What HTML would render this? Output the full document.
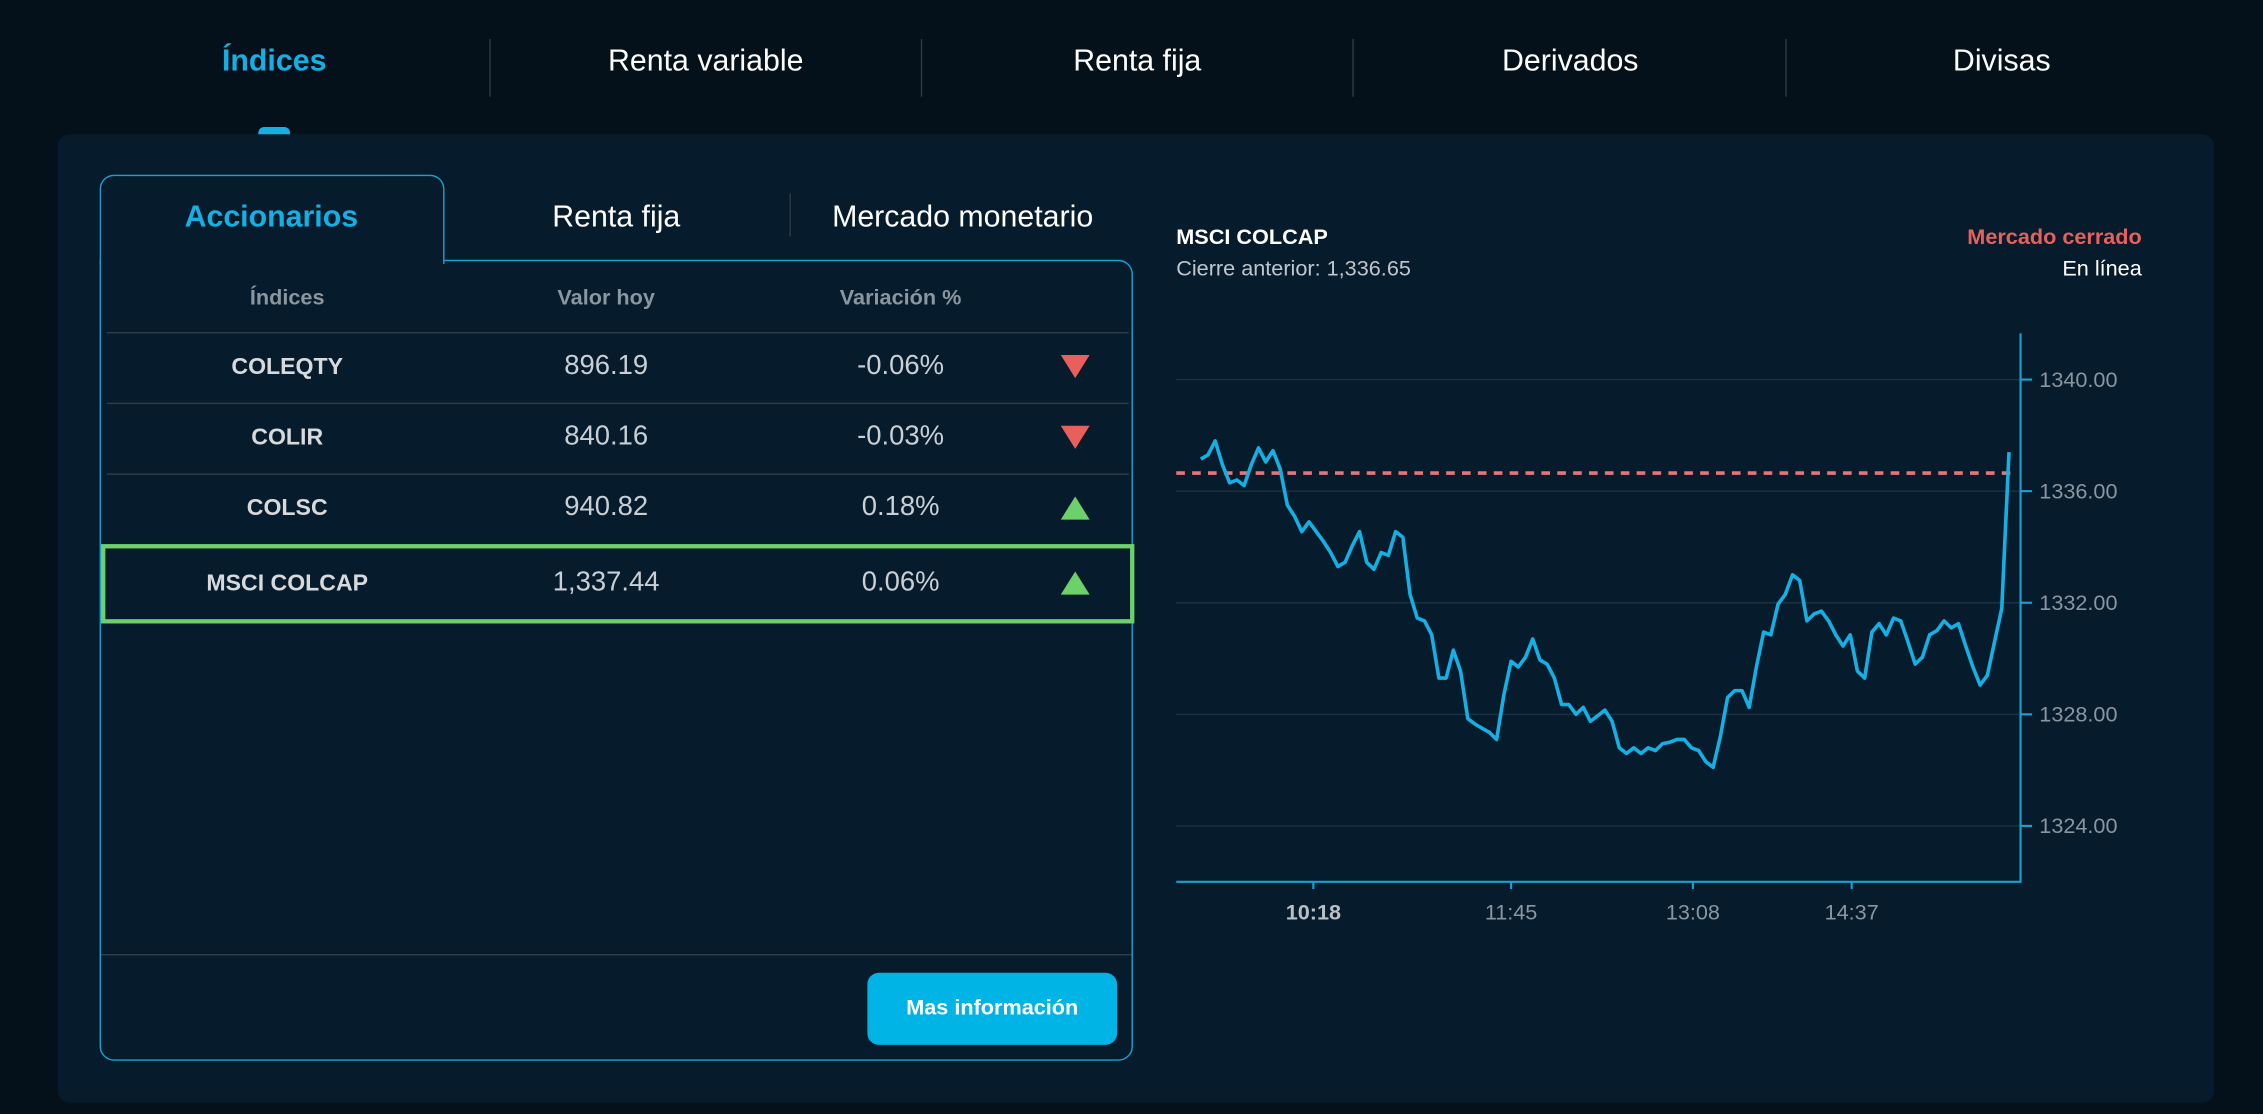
<!DOCTYPE html>
<html><head><meta charset="utf-8"><style>
html,body{margin:0;padding:0;background:#04111a;overflow:hidden;width:2263px;height:1114px}
#root{position:absolute;left:0;top:0;width:1568px;height:772px;transform:scale(1.44324);transform-origin:0 0;font-family:"Liberation Sans",sans-serif;color:#fff;background:#04111a}
.abs{position:absolute}
.nav{position:absolute;top:31px;font-size:21px;transform:translateX(-50%);white-space:nowrap}
.sep{position:absolute;top:27px;width:1px;height:40px;background:#2a3a46}
.hdr{position:absolute;top:198px;font-size:15px;font-weight:bold;color:#8c969e;transform:translateX(-50%)}
.cell{position:absolute;font-size:19px;color:#c9cfd4;transform:translateX(-50%);white-space:nowrap}
.name{font-size:16px;font-weight:bold;color:#d6dadd}
.rowline{position:absolute;left:74px;width:708px;height:1px;background:#2e3e4a}
.tri{position:absolute;width:0;height:0;border-left:10px solid transparent;border-right:10px solid transparent}
</style></head><body>
<div id="root">
<div class="nav" style="left:190px;color:#14b0e3;font-weight:bold">Índices</div>
<div class="sep" style="left:339px"></div>
<div class="nav" style="left:489px">Renta variable</div>
<div class="sep" style="left:638px"></div>
<div class="nav" style="left:788px">Renta fija</div>
<div class="sep" style="left:937px"></div>
<div class="nav" style="left:1088px">Derivados</div>
<div class="sep" style="left:1237px"></div>
<div class="nav" style="left:1387px">Divisas</div>
<div class="abs" style="left:179px;top:88px;width:22px;height:8px;border-radius:4px 4px 0 0;background:#14b0e3"></div>

<div class="abs" style="left:40px;top:93px;width:1494px;height:671px;background:#061b2b;border-radius:8px"></div>

<div class="abs" style="left:69px;top:180px;width:716px;height:555px;border:1.5px solid #1a9fd0;border-radius:0 10px 10px 10px;box-sizing:border-box"></div>
<div class="abs" style="left:69px;top:121px;width:239px;height:62px;border:1.5px solid #1a9fd0;border-bottom:none;border-radius:10px 10px 0 0;background:#061b2b;box-sizing:border-box"></div>
<div class="abs" style="left:188px;top:139px;transform:translateX(-50%);font-size:21px;font-weight:bold;color:#14b0e3">Accionarios</div>
<div class="abs" style="left:427px;top:139px;transform:translateX(-50%);font-size:21px">Renta fija</div>
<div class="sep" style="left:547px;top:134px;height:30px"></div>
<div class="abs" style="left:667px;top:139px;transform:translateX(-50%);font-size:21px;white-space:nowrap">Mercado monetario</div>

<div class="hdr" style="left:199px">Índices</div>
<div class="hdr" style="left:420px">Valor hoy</div>
<div class="hdr" style="left:624px">Variación %</div>
<div class="rowline" style="top:230px"></div>
<div class="rowline" style="top:279px"></div>
<div class="rowline" style="top:328px"></div>
<div class="rowline" style="top:377px"></div>

<div>
<div class="cell name" style="left:199px;top:246px">COLEQTY</div>
<div class="cell" style="left:420px;top:243px">896.19</div>
<div class="cell" style="left:624px;top:243px">-0.06%</div>
<div class="tri" style="left:735px;top:246px;border-top:16px solid #e8605c"></div></div>
<div>
<div class="cell name" style="left:199px;top:295px">COLIR</div>
<div class="cell" style="left:420px;top:292px">840.16</div>
<div class="cell" style="left:624px;top:292px">-0.03%</div>
<div class="tri" style="left:735px;top:295px;border-top:16px solid #e8605c"></div></div>
<div>
<div class="cell name" style="left:199px;top:344px">COLSC</div>
<div class="cell" style="left:420px;top:341px">940.82</div>
<div class="cell" style="left:624px;top:341px">0.18%</div>
<div class="tri" style="left:735px;top:344px;border-bottom:16px solid #6dd16b"></div></div>
<div class="abs" style="left:70px;top:377px;width:716px;height:55px;border:3px solid #6dd16b;box-sizing:border-box"></div>
<div class="cell name" style="left:199px;top:396px">MSCI COLCAP</div>
<div class="cell" style="left:420px;top:393px">1,337.44</div>
<div class="cell" style="left:624px;top:393px">0.06%</div>
<div class="tri" style="left:735px;top:396px;border-bottom:16px solid #6dd16b"></div>

<div class="rowline" style="top:661px;left:70px;width:714px"></div>
<div class="abs" style="left:601px;top:674px;width:173px;height:50px;border-radius:8px;background:#00b4e6;font-size:15px;font-weight:bold;line-height:50px;text-align:center">Mas información</div>

<div class="abs" style="left:815px;top:156px;font-size:15px;font-weight:bold">MSCI COLCAP</div>
<div class="abs" style="left:815px;top:178px;font-size:15px;color:#c0c6cc">Cierre anterior: 1,336.65</div>
<div class="abs" style="right:84px;top:156px;font-size:15px;font-weight:bold;color:#e8605c">Mercado cerrado</div>
<div class="abs" style="right:84px;top:178px;font-size:15px">En línea</div>

<svg id="chart" class="abs" style="left:0;top:0" width="1568" height="772"></svg>
</div>
<script>
const yTicks=[1340,1336,1332,1328,1324];
const yTickLabels=["1340.00","1336.00","1332.00","1328.00","1324.00"];
const xTickIdx=[15.6,43,68.2,90.2];
const xTickLabels=["10:18","11:45","13:08","14:37"];
const prevClose=1336.65;
const values=[1337.15,1337.3,1337.8,1336.95,1336.3,1336.4,1336.2,1336.95,1337.55,1337.05,1337.45,1336.8,1335.5,1335.1,1334.55,1334.9,1334.55,1334.2,1333.8,1333.3,1333.45,1334.05,1334.55,1333.45,1333.2,1333.8,1333.7,1334.55,1334.35,1332.3,1331.45,1331.35,1330.85,1329.3,1329.3,1330.3,1329.55,1327.85,1327.65,1327.5,1327.35,1327.1,1328.7,1329.9,1329.7,1330.05,1330.7,1329.95,1329.8,1329.3,1328.35,1328.35,1328,1328.25,1327.75,1327.95,1328.15,1327.75,1326.8,1326.6,1326.8,1326.6,1326.8,1326.7,1326.95,1327,1327.1,1327.1,1326.8,1326.7,1326.3,1326.1,1327.2,1328.6,1328.85,1328.85,1328.25,1329.7,1330.95,1330.85,1331.95,1332.3,1333,1332.8,1331.35,1331.6,1331.7,1331.35,1330.85,1330.45,1330.85,1329.55,1329.3,1330.95,1331.25,1330.85,1331.45,1331.35,1330.6,1329.8,1330.05,1330.85,1331,1331.35,1331.1,1331.25,1330.45,1329.7,1329.05,1329.4,1330.6,1331.8,1337.4];
const NS="http://www.w3.org/2000/svg";
const svg=document.getElementById('chart');
const X0=832,STEP=5,L=815,R=1400,B=611;
function xs(i){return X0+i*STEP;}
function ys(v){return 263+(1340-v)*19.33;}
function mk(t,a){const e=document.createElementNS(NS,t);for(const k in a)e.setAttribute(k,a[k]);svg.appendChild(e);return e;}
yTicks.forEach((t,i)=>{
  const g=mk('line',{x1:L,x2:R,y1:ys(t),y2:ys(t),stroke:'#1e3140','stroke-width':1});
  
  
  mk('line',{x1:R,x2:R+8,y1:ys(t),y2:ys(t),stroke:'#1a9fd0','stroke-width':1.5});
  const tx=mk('text',{x:R+13,y:ys(t)+5,fill:'#8a96a0','font-size':15,'font-family':'Liberation Sans, sans-serif'});
  tx.textContent=yTickLabels[i];
  
  
});
const ax=mk('path',{d:`M${L},${B}H${R}V231`,fill:'none',stroke:'#1a9fd0','stroke-width':1.5});


xTickIdx.forEach((t,i)=>{
  const x=xs(t);
  mk('line',{x1:x,x2:x,y1:B,y2:B+5,stroke:'#1a9fd0','stroke-width':1.5});
  const tx=mk('text',{x:x,y:637,fill:i==0?'#b8c0c6':'#8a96a0','font-size':15,'font-weight':i==0?'bold':'normal','text-anchor':'middle','font-family':'Liberation Sans, sans-serif'});
  tx.textContent=xTickLabels[i];
  
  
});
const pc=mk('line',{x1:L,x2:R-2,y1:ys(prevClose),y2:ys(prevClose),stroke:'#e8737a','stroke-width':2.5,'stroke-dasharray':'6 5'});


const pl=mk('polyline',{points:values.map((v,i)=>xs(i)+','+ys(v)).join(' '),fill:'none',stroke:'#14b0e3','stroke-width':2.5,'stroke-linejoin':'round'});


</script>
</body></html>
